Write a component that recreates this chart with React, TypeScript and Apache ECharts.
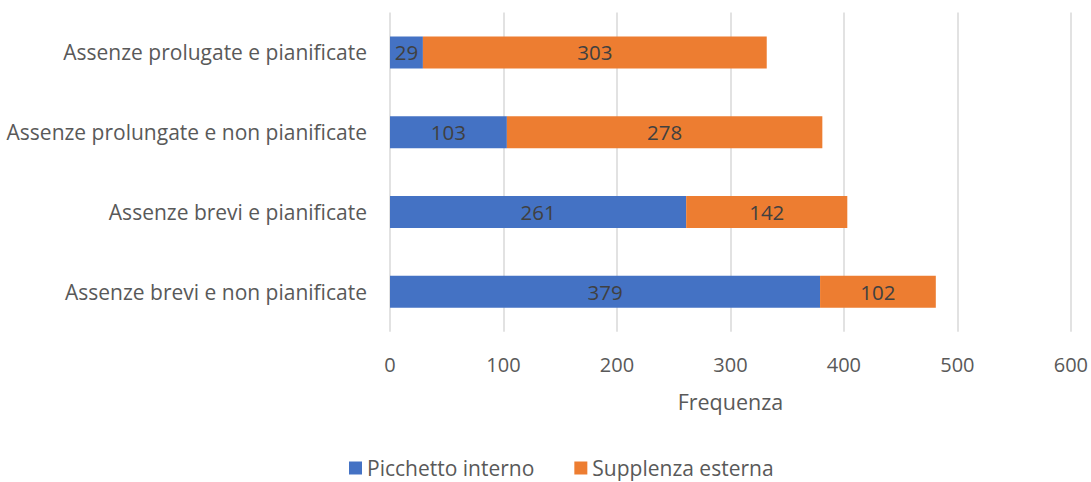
import React, { useEffect, useRef } from "react";
import * as echarts from "echarts";

const categories = [
  "Assenze prolugate e pianificate",
  "Assenze prolungate e non pianificate",
  "Assenze brevi e pianificate",
  "Assenze brevi e non pianificate",
];
const picchettoInterno = [29, 103, 261, 379];
const supplenzaEsterna = [303, 278, 142, 102];
const seriesNames = ["Picchetto interno", "Supplenza esterna"];
const axisTitle = "Frequenza";

const FONT = "'Open Sans', 'Noto Sans', sans-serif";

export default function App() {
  const ref = useRef<HTMLDivElement>(null);
  useEffect(() => {
    if (!ref.current) return;
    const chart = echarts.init(ref.current, undefined, { renderer: "svg" });
    const labelCfg = {
      show: true,
      position: "inside",
      color: "#404040",
      fontSize: 20.5,
      fontFamily: FONT,
    };
    chart.setOption({
      animation: false,
      backgroundColor: "#ffffff",
      textStyle: { fontFamily: FONT },
      grid: { left: 390, right: 18, top: 12.6, bottom: 150.3, containLabel: false },
      legend: {
        left: 349,
        top: 455,
        padding: 0,
        itemWidth: 13,
        itemHeight: 13,
        itemGap: 40,
        icon: "rect",
        textStyle: { color: "#595959", fontSize: 21, fontFamily: FONT, lineHeight: 26 },
        data: seriesNames,
      },
      xAxis: {
        type: "value",
        min: 0,
        max: 600,
        interval: 100,
        name: axisTitle,
        nameLocation: "middle",
        nameGap: 59,
        nameTextStyle: { color: "#595959", fontSize: 21.5, fontFamily: FONT },
        axisLine: { show: false },
        axisTick: { show: false },
        axisLabel: { color: "#595959", fontSize: 20, margin: 23, fontFamily: FONT },
        splitLine: { show: true, lineStyle: { color: "#d9d9d9", width: 1.5 } },
      },
      yAxis: {
        type: "category",
        inverse: true,
        data: categories,
        axisLine: { show: false },
        axisTick: { show: false },
        axisLabel: { color: "#595959", fontSize: 21, margin: 23, fontFamily: FONT },
      },
      series: [
        {
          name: seriesNames[0],
          type: "bar",
          stack: "total",
          barWidth: "40%",
          data: picchettoInterno,
          itemStyle: { color: "#4472C4" },
          label: labelCfg,
        },
        {
          name: seriesNames[1],
          type: "bar",
          stack: "total",
          barWidth: "40%",
          data: supplenzaEsterna,
          itemStyle: { color: "#ED7D31" },
          label: labelCfg,
        },
      ],
    });
    return () => chart.dispose();
  }, []);
  return (
    <div
      ref={ref}
      style={{ position: "fixed", left: 0, top: 0, width: 1091, height: 482 }}
    />
  );
}
